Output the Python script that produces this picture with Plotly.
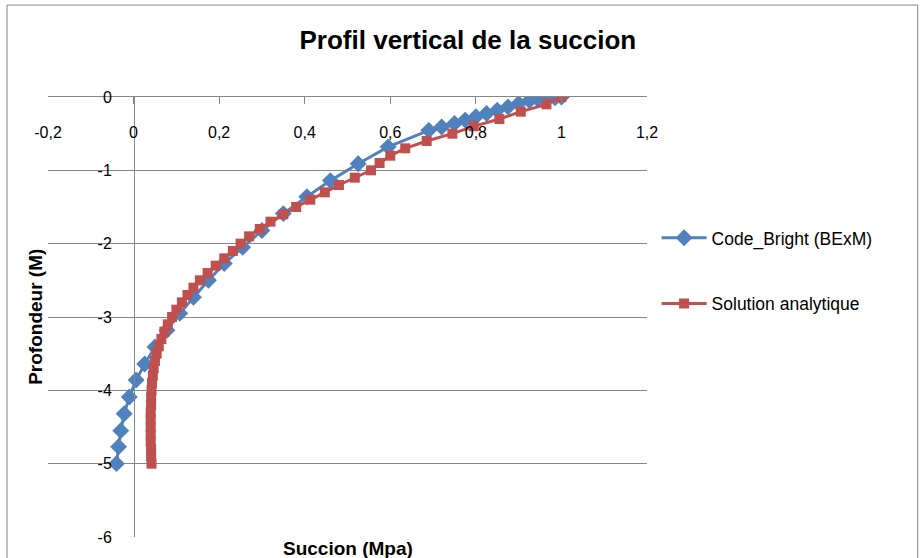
import plotly.graph_objects as go

# Code_Bright (BExM) - succion (MPa) vs profondeur (m)
code_bright_prof = [0, -0.01, -0.02, -0.03, -0.05, -0.09, -0.135, -0.18, -0.225, -0.27,
                    -0.315, -0.36, -0.41, -0.455, -0.68, -0.91, -1.14, -1.36, -1.59, -1.82,
                    -2.05, -2.27, -2.5, -2.73, -2.95, -3.18, -3.41, -3.64, -3.86, -4.09,
                    -4.32, -4.55, -4.77, -5.0]
code_bright_succ = [1.0, 0.985, 0.965, 0.945, 0.925, 0.9, 0.875, 0.85, 0.825, 0.8,
                    0.775, 0.75, 0.72, 0.69, 0.595, 0.525, 0.46, 0.405, 0.35, 0.3,
                    0.255, 0.212, 0.175, 0.14, 0.108, 0.078, 0.05, 0.026, 0.006, -0.01,
                    -0.022, -0.03, -0.035, -0.04]

# Solution analytique
analytique_prof = [0, -0.1, -0.2, -0.3, -0.4, -0.5, -0.6, -0.7, -0.8, -0.9,
                   -1.0, -1.1, -1.2, -1.3, -1.4, -1.5, -1.6, -1.7, -1.8, -1.9,
                   -2.0, -2.1, -2.2, -2.3, -2.4, -2.5, -2.6, -2.7, -2.8, -2.9,
                   -3.0, -3.1, -3.2, -3.3, -3.4, -3.5, -3.6, -3.7, -3.8, -3.9,
                   -4.0, -4.1, -4.2, -4.3, -4.4, -4.5, -4.6, -4.7, -4.8, -4.9, -5.0]
analytique_succ = [1.0, 0.965, 0.905, 0.855, 0.795, 0.745, 0.685, 0.635, 0.6, 0.575,
                   0.555, 0.517, 0.48, 0.447, 0.413, 0.38, 0.35, 0.32, 0.295, 0.27,
                   0.25, 0.232, 0.212, 0.192, 0.173, 0.155, 0.14, 0.126, 0.113, 0.1,
                   0.09, 0.08, 0.072, 0.065, 0.059, 0.054, 0.05, 0.047, 0.045, 0.043,
                   0.042, 0.041, 0.041, 0.04, 0.04, 0.04, 0.04, 0.04, 0.041, 0.041, 0.042]

x_ticks = [-0.2, 0, 0.2, 0.4, 0.6, 0.8, 1.0, 1.2]
x_labels = ["-0,2", "0", "0,2", "0,4", "0,6", "0,8", "1", "1,2"]
y_ticks = [0, -1, -2, -3, -4, -5, -6]
y_labels = ["0", "-1", "-2", "-3", "-4", "-5", "-6"]

BLUE = "#4F81BD"
RED = "#C0504D"
GRID = "#868686"

fig = go.Figure()
fig.add_trace(go.Scatter(
    x=code_bright_succ, y=code_bright_prof, mode="lines+markers",
    name="Code_Bright (BExM)", legendgroup="a",
    line=dict(color=BLUE, width=3),
    marker=dict(symbol="diamond", size=13, color=BLUE)))
# second series on the overlaid x axis that carries the tick labels
fig.add_trace(go.Scatter(
    x=analytique_succ, y=analytique_prof, mode="lines+markers", xaxis="x2",
    name="Solution analytique", legendgroup="b",
    line=dict(color=RED, width=3),
    marker=dict(symbol="square", size=10, color=RED)))

# outer chart border
fig.add_shape(type="rect", xref="paper", yref="paper",
              x0=-0.0684, x1=1.452, y0=-0.2, y1=1.209,
              line=dict(color=GRID, width=1), layer="below")

fig.update_layout(
    width=921, height=558,
    margin=dict(l=48, r=274, t=97, b=21, autoexpand=False),
    paper_bgcolor="white", plot_bgcolor="white",
    font=dict(family="Liberation Sans, Arial, sans-serif", size=16, color="black"),
    title=dict(text="<b>Profil vertical de la succion</b>", x=0.508, xref="container",
               y=0.928, yref="container", xanchor="center", yanchor="middle",
               font=dict(size=26)),
    showlegend=True,
    legend=dict(x=1.016, y=0.605, xanchor="left", yanchor="middle",
                tracegroupgap=40, itemwidth=45, font=dict(size=17.5)),
    # axis line at y = 0 (top of the range), ticks pointing down
    xaxis=dict(range=[-0.2, 1.2], side="top", showgrid=False, zeroline=False,
               showline=True, linecolor=GRID, linewidth=1,
               ticks="inside", ticklen=7, tickcolor=GRID,
               tickvals=x_ticks, showticklabels=False, automargin=False),
    # tick labels sit a little below the axis line
    xaxis2=dict(matches="x", overlaying="x", anchor="free", position=0.945, side="bottom",
                showgrid=False, zeroline=False, showline=False, ticks="",
                tickvals=x_ticks, ticktext=x_labels, automargin=False),
    yaxis=dict(range=[-6, 0], anchor="free", position=0.1436,
               showgrid=True, gridcolor=GRID, gridwidth=1, zeroline=False,
               showline=True, linecolor=GRID, linewidth=1, ticks="",
               tickvals=y_ticks, ticktext=y_labels, ticklabelstandoff=19,
               automargin=False),
)

fig.add_annotation(text="<b>Succion (Mpa)</b>", xref="paper", yref="paper",
                   x=0.5, y=-0.025, xanchor="center", yanchor="middle",
                   showarrow=False, font=dict(size=19))
fig.add_annotation(text="<b>Profondeur (M)</b>", xref="paper", yref="paper",
                   x=-0.022, y=0.5, xanchor="center", yanchor="middle", textangle=-90,
                   showarrow=False, font=dict(size=19))

fig.write_html("out.html", config={"displayModeBar": False},
               post_script="document.body.style.margin='0';")
